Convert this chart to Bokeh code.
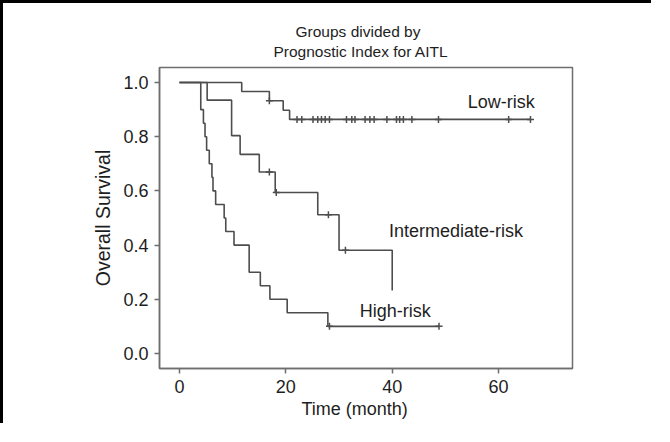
from bokeh.plotting import figure
from bokeh.models import Range1d, FixedTicker, Label, PrintfTickFormatter, Title
from bokeh.embed import file_html
from bokeh.resources import INLINE

# ---- data ----
low_t = [0, 11.7, 16.9, 19.5, 20.7, 66.0]
low_s = [1.0, 0.967, 0.933, 0.898, 0.864, 0.864]
low_cens_t = [16.9, 22.1, 23.0, 25.1, 26.0, 26.7, 27.4, 28.2, 31.4, 32.4, 33.0,
              34.9, 35.8, 36.6, 39.0, 40.8, 41.4, 42.1, 43.7, 48.7, 61.9, 66.0]
low_cens_s = [0.933] + [0.864] * 21

int_t = [0, 5.2, 9.8, 11.4, 15.0, 18.0, 26.0, 30.0, 40.0]
int_s = [1.0, 0.935, 0.804, 0.735, 0.670, 0.594, 0.512, 0.381, 0.232]
int_cens_t = [16.9, 18.2, 28.0, 31.2]
int_cens_s = [0.670, 0.594, 0.512, 0.381]

high_t = [0, 4.0, 4.5, 4.8, 5.1, 5.6, 6.1, 6.3, 6.8, 8.4, 8.7, 10.25, 13.1, 15.2,
          17.0, 20.25, 27.9, 48.8]
high_s = [1.0, 0.90, 0.85, 0.80, 0.75, 0.70, 0.65, 0.60, 0.55, 0.50, 0.45, 0.40,
          0.30, 0.25, 0.20, 0.15, 0.10, 0.10]
high_cens_t = [28.2, 48.8]
high_cens_s = [0.10, 0.10]

x_ticks = [0, 20, 40, 60]
y_ticks = [0.0, 0.2, 0.4, 0.6, 0.8, 1.0]

title_lines = ["Groups divided by", "Prognostic Index for AITL"]
x_label = "Time (month)"
y_label = "Overall Survival"
group_names = ["Low-risk", "Intermediate-risk", "High-risk"]

FONT = "Liberation Sans"
LINE = "#4d4d4d"
TXT = "#1e1e1e"

p = figure(width=651, height=423, output_backend="svg", toolbar_location=None,
           x_range=Range1d(-3.76, 73.9), y_range=Range1d(-0.0556, 1.0556),
           min_border_left=156, min_border_right=82, min_border_top=64,
           min_border_bottom=58)
p.styles = {"border-left": "3px solid black", "border-top": "3px solid black"}
p.grid.visible = False
p.outline_line_color = "#6e6e6e"
p.outline_line_width = 1.5
p.background_fill_color = "white"
p.border_fill_color = "white"

for ax in (p.xaxis[0], p.yaxis[0]):
    ax.axis_line_color = "#6e6e6e"
    ax.axis_line_width = 1.5
    ax.major_tick_line_color = "#6e6e6e"
    ax.major_tick_line_width = 1.5
    ax.major_tick_out = 5
    ax.major_tick_in = 0
    ax.minor_tick_line_color = None
    ax.major_label_text_font = FONT
    ax.major_label_text_font_size = "18px"
    ax.major_label_text_color = TXT
    ax.major_label_standoff = 6
    ax.axis_label_text_font = FONT
    ax.axis_label_text_font_style = "normal"
    ax.axis_label_text_color = TXT

p.xaxis.ticker = FixedTicker(ticks=x_ticks)
p.yaxis.ticker = FixedTicker(ticks=y_ticks)
p.yaxis.formatter = PrintfTickFormatter(format="%.1f")
p.yaxis.axis_label = y_label
p.yaxis.axis_label_text_font_size = "19.5px"
p.yaxis.axis_label_standoff = 6

# x-axis title, placed under the tick labels, shifted left like the original
p.add_layout(Title(text=x_label, align="left", offset=142, text_font=FONT,
                   text_font_size="18px", text_font_style="normal",
                   text_color=TXT, standoff=3), "below")

# small blank spacer between frame and title block
p.add_layout(Title(text=" ", text_font_size="1px", standoff=4), "above")
# two-line title: the first added sits nearest the frame
p.add_layout(Title(text=title_lines[1], align="left", offset=114, text_font=FONT,
                   text_font_size="15.5px", text_font_style="normal",
                   text_color=TXT, standoff=2), "above")
p.add_layout(Title(text=title_lines[0], align="left", offset=136, text_font=FONT,
                   text_font_size="15.5px", text_font_style="normal",
                   text_color=TXT, standoff=0), "above")

for t, s in ((low_t, low_s), (int_t, int_s), (high_t, high_s)):
    p.step(t, s, mode="after", line_color=LINE, line_width=1.6)

for t, s in ((low_cens_t, low_cens_s), (int_cens_t, int_cens_s),
             (high_cens_t, high_cens_s)):
    p.scatter(t, s, marker="cross", size=7, line_color=LINE, line_width=1.5)

def lab(x, y, text):
    p.add_layout(Label(x=x, y=y, text=text, text_font=FONT, text_font_size="18px",
                       text_color=TXT, text_align="left", text_baseline="middle"))

lab(54.2, 0.930, group_names[0])
lab(39.4, 0.452, group_names[1])
lab(33.9, 0.156, group_names[2])

open("out.html", "w").write(file_html(p, INLINE))
